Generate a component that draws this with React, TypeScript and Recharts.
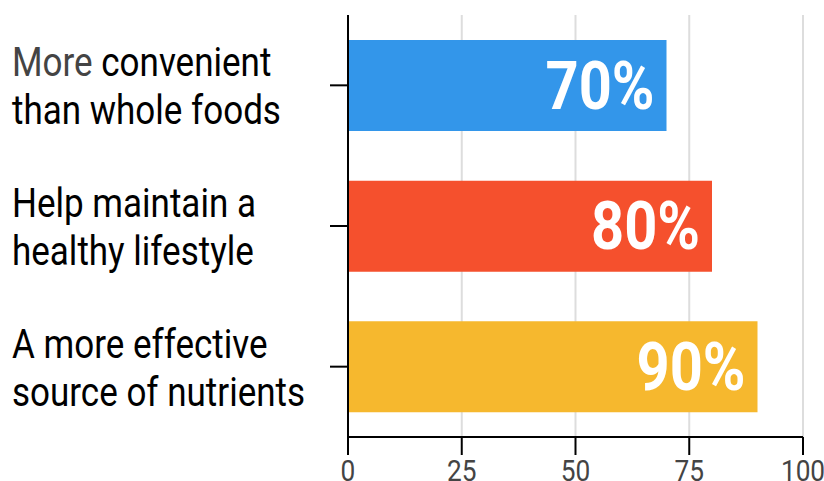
import React from 'react';
import { BarChart, Bar, XAxis, YAxis, CartesianGrid, LabelList, Cell } from 'recharts';

const categories = ['More convenient than whole foods', 'Help maintain a healthy lifestyle', 'A more effective source of nutrients'];
const labelLines = [['More convenient', 'than whole foods'], ['Help maintain a', 'healthy lifestyle'], ['A more effective', 'source of nutrients']];
const values = [70, 80, 90];
const colors = ['#3396ea', '#f5502d', '#f6b82e'];
const xTicks = [0, 25, 50, 75, 100];

const data = categories.map((name, i) => ({ name, value: values[i] }));

const SX = 0.875;

const YTick = (props: any) => {
  const { y, index } = props;
  const lines = labelLines[index];
  return <g>
      <text transform={`translate(12,${y - 9}) scale(${SX},1)`} fontSize={40} fontFamily="Roboto" fill="#000">
        {index === 0 ? <><tspan fill="#444">More</tspan><tspan> convenient</tspan></> : lines[0]}
      </text>
      <text transform={`translate(12,${y + 39}) scale(${SX},1)`} fontSize={40} fontFamily="Roboto" fill="#000">
        {lines[1]}
      </text>
    </g>;
};

const XTick = (props: any) => {
  const { x, y, payload } = props;
  return <text transform={`translate(${x},${y + 24}) scale(${SX},1)`} textAnchor="middle" fontSize={30} fontFamily="Roboto" fill="#444">
      {payload.value}
    </text>;
};

const ValueLabel = (props: any) => {
  const { x, y, width, height, value } = props;
  return <text transform={`translate(${x + width - 12},${y + height / 2 + 23}) scale(${SX},1)`} textAnchor="end" fontSize={66} fontWeight="bold" fontFamily="Roboto" fill="#fff">
      {value}%
    </text>;
};

const App: React.FC = () => {
  return <div style={{ position: 'absolute', left: 0, top: 0, background: '#fff' }}>
      <BarChart width={824} height={481} data={data} layout="vertical" margin={{
      top: 15,
      right: 21,
      left: 0,
      bottom: 0
    }}>
        <CartesianGrid horizontal={false} stroke="#dddddd" strokeWidth={2} />
        <XAxis type="number" domain={[0, 100]} ticks={xTicks} axisLine={{ stroke: '#000', strokeWidth: 2 }} tickLine={{ stroke: '#000', strokeWidth: 2 }} tickSize={18} tick={<XTick />} height={44} />
        <YAxis type="category" dataKey="name" width={348} axisLine={{ stroke: '#000', strokeWidth: 2 }} tickLine={{ stroke: '#000', strokeWidth: 2 }} tickSize={18} tick={<YTick />} />
        <Bar dataKey="value" barSize={91} isAnimationActive={false}>
          {data.map((d, i) => <Cell key={d.name} fill={colors[i]} />)}
          <LabelList dataKey="value" content={<ValueLabel />} />
        </Bar>
      </BarChart>
    </div>;
};

export default App;
